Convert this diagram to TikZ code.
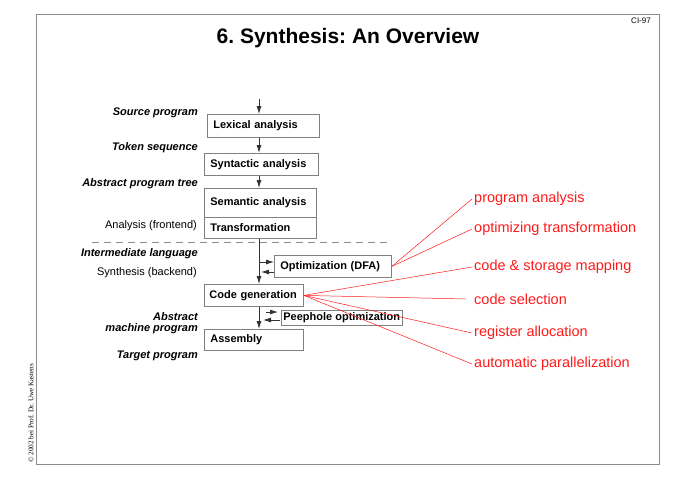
\documentclass[tikz,border=0pt]{standalone}
\usepackage{fontspec}
\setmainfont{Liberation Sans}
\newfontfamily\copyfont{Liberation Serif}
\usetikzlibrary{arrows.meta}
\usetikzlibrary{positioning}
\definecolor{FrameGray}{HTML}{8C8C8C}
\definecolor{BoxGray}{HTML}{808080}
\definecolor{NoteRed}{HTML}{FF1A1A}
\frenchspacing

\begin{document}
\begin{tikzpicture}[x=1pt,y=-1pt,
  phase/.style={draw=BoxGray, line width=0.8pt, anchor=north west, inner xsep=6pt,
    inner ysep=0pt, align=left, font=\fontsize{11}{13}\selectfont\bfseries},
  kind/.style={anchor=east, align=right, inner sep=0pt,
    font=\fontsize{11}{11.5}\selectfont\bfseries\itshape},
  part/.style={anchor=east, inner sep=0pt, font=\fontsize{11}{12}\selectfont},
  task/.style={anchor=west, text=NoteRed, inner sep=2pt, font=\fontsize{14.5}{16}\selectfont},
  flow/.style={-{Latex[length=8pt,width=5pt]}, black!80, line width=0.8pt},
  hint/.style={NoteRed, line width=0.5pt}]

  \useasboundingbox (0,0) rectangle (678,480);

  % page frame and heading
  \draw [FrameGray, line width=1pt] (36,14) rectangle (659,464);
  \node[font=\fontsize{21}{24}\selectfont\bfseries] (title) at (348,38) {6. Synthesis: An Overview};
  \node[font=\fontsize{8}{9}\selectfont] (page) at (641,21) {CI-97};
  \node[rotate=90, anchor=west, inner sep=0pt, font=\copyfont\fontsize{7.2}{8}\selectfont]
    (copy) at (31,463) {\textcopyright{} 2002 bei Prof. Dr. Uwe Kastens};

  % compiler phases
  \node[phase, text width=100pt, minimum height=23pt] (lexan) at (207,114) {Lexical analysis};
  \node[phase, text width=102pt, minimum height=22pt] (synan) at (204,153) {Syntactic analysis};
  \node[phase, text width=100pt, minimum height=29pt] (seman) at (204,188) {Semantic analysis};
  \node[phase, text width=100pt, minimum height=21pt] (trafo) at (204,217) {Transformation};
  \node[phase, text width=105pt, minimum height=22pt] (dfa) at (274,255) {Optimization (DFA)};
  \node[phase, inner xsep=5pt, text width=89pt, minimum height=22pt] (codegen) at (204,284) {Code generation};
  \node[phase, inner xsep=2pt, minimum height=15pt] (peep) at (281,310) {Peephole optimization};
  \node[phase, text width=87pt, minimum height=21pt] (asm) at (204,329) {Assembly};

  % data between the phases
  \node[kind] (source) at (198,113) {Source program};
  \node[kind] (tokens) at (198,148) {Token sequence};
  \node[kind] (tree) at (198,184) {Abstract program tree};
  \node[part] (front) at (197,226) {Analysis (frontend)};
  \node[kind] (inter) at (198,254) {Intermediate language};
  \node[part] (back) at (197,273) {Synthesis (backend)};
  \node[kind] (machine) at (198,323) {Abstract\\machine program};
  \node[kind] (target) at (198,356) {Target program};

  % main flow
  \coordinate (spine) at (259,99);
  \draw [flow] (spine) -- (lexan.north -| spine);
  \draw [flow] (lexan.south -| spine) -- (synan.north -| spine);
  \draw [flow] (synan.south -| spine) -- (seman.north -| spine);
  \draw [flow] (trafo.south -| spine) -- (codegen.north -| spine);
  \draw [flow] (codegen.south -| spine) -- (asm.north -| spine);

  % side loops
  \coordinate (dfaTo) at (259,262);
  \coordinate (dfaBack) at (261,272);
  \draw [flow] (dfaTo) -- (dfaTo -| dfa.west);
  \draw [flow] (dfaBack -| dfa.west) -- (dfaBack);
  \coordinate (peepTo) at (266,312);
  \coordinate (peepBack) at (263,320);
  \draw [flow] (peepTo) -- ([xshift=-3pt]peepTo -| peep.west);
  \draw [flow] ([xshift=-1pt]peepBack -| peep.west) -- (peepBack);

  % analysis / synthesis border
  \coordinate (borderL) at (92,242);
  \coordinate (borderR) at (392,242);
  \draw [FrameGray, line width=0.7pt, dash pattern=on 7pt off 5pt] (borderL) -- (borderR);

  % tasks
  \node[task] (prog) at (472,199) {program analysis};
  \node[task] (opt) at (472,229) {optimizing transformation};
  \node[task] (map) at (472,267) {code \& storage mapping};
  \node[task] (sel) at (472,299) {code selection};
  \node[task] (reg) at (472,333) {register allocation};
  \node[task] (par) at (472,364) {automatic parallelization};

  \draw [hint] (dfa.east) -- (prog.west);
  \draw [hint] (dfa.east) -- (opt.west);
  \draw [hint] (codegen.east) -- (map.west);
  \draw [hint] (codegen.east) -- ([xshift=-6pt]sel.west);
  \draw [hint] (codegen.east) -- (reg.west);
  \draw [hint] (codegen.east) -- (par.west);

\end{tikzpicture}
\end{document}
